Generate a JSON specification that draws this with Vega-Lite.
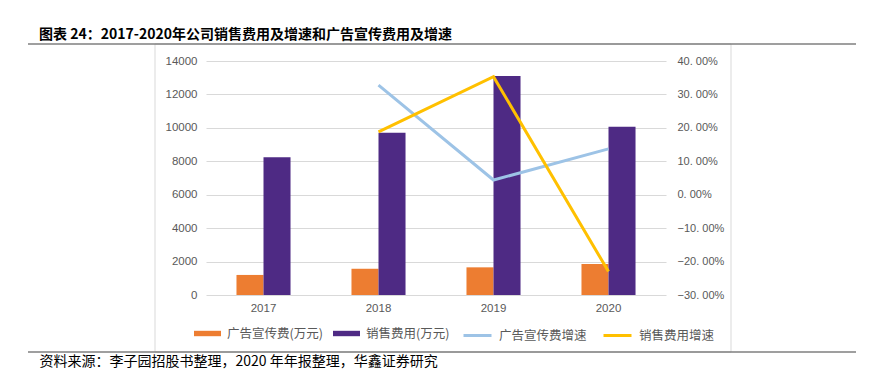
{
  "$schema": "https://vega.github.io/schema/vega-lite/v6.json",
  "width": 460,
  "height": 234,
  "autosize": {"type": "none"},
  "padding": {"left": 206, "top": 61, "right": 225, "bottom": 89},
  "background": "white",
  "config": {
    "view": {"stroke": null},
    "font": "Noto Sans CJK SC"
  },
  "title": {
    "text": "图表 24：2017-2020年公司销售费用及增速和广告宣传费用及增速",
    "anchor": "start",
    "frame": "group",
    "dx": -167,
    "offset": -13,
    "baseline": "bottom",
    "font": "Noto Sans CJK SC",
    "fontSize": 14,
    "fontWeight": "bold",
    "color": "#000000"
  },
  "layer": [
    {
      "data": {"values": [{"k": "box"}]},
      "mark": {"type": "rect", "fill": null, "stroke": "#D9D9D9", "strokeWidth": 1, "clip": false},
      "encoding": {"x": {"value": -51}, "x2": {"value": 525}, "y": {"value": -17}, "y2": {"value": 291}}
    },
    {
      "data": {"values": [{"k": "top"}]},
      "mark": {"type": "rule", "stroke": "#7F7F7F", "strokeWidth": 1.5, "clip": false},
      "encoding": {"x": {"value": -178}, "x2": {"value": 650}, "y": {"value": -17}}
    },
    {
      "data": {"values": [{"k": "bottom"}]},
      "mark": {"type": "rule", "stroke": "#7F7F7F", "strokeWidth": 1.5, "clip": false},
      "encoding": {"x": {"value": -178}, "x2": {"value": 650}, "y": {"value": 291}}
    },
    {
      "data": {"values": [
        {"year": "2017", "series": "广告宣传费(万元)", "value": 1200},
        {"year": "2018", "series": "广告宣传费(万元)", "value": 1570},
        {"year": "2019", "series": "广告宣传费(万元)", "value": 1655},
        {"year": "2020", "series": "广告宣传费(万元)", "value": 1855},
        {"year": "2017", "series": "销售费用(万元)", "value": 8240},
        {"year": "2018", "series": "销售费用(万元)", "value": 9710},
        {"year": "2019", "series": "销售费用(万元)", "value": 13100},
        {"year": "2020", "series": "销售费用(万元)", "value": 10070}
      ]},
      "mark": {"type": "bar"},
      "encoding": {
        "x": {
          "field": "year", "type": "nominal",
          "scale": {"paddingInner": 0.53, "paddingOuter": 0.265},
          "axis": {
            "title": "资料来源：李子园招股书整理，2020 年年报整理，华鑫证券研究",
            "titleX": -167, "titleY": 66, "titleAlign": "left", "titleAnchor": "start",
            "titleBaseline": "middle", "titleFont": "Noto Sans CJK SC", "titleFontSize": 14,
            "titleFontWeight": "normal", "titleColor": "#000000",
            "labelAngle": 0, "labelFont": "Liberation Sans", "labelFontSize": 11.5,
            "labelColor": "#595959", "labelPadding": 7, "domain": false, "ticks": false
          }
        },
        "xOffset": {"field": "series", "type": "nominal", "sort": ["广告宣传费(万元)", "销售费用(万元)"], "scale": {"paddingInner": 0, "paddingOuter": 0}},
        "y": {
          "field": "value", "type": "quantitative",
          "scale": {"domain": [0, 14000], "nice": false},
          "axis": {
            "title": null, "values": [0, 2000, 4000, 6000, 8000, 10000, 12000, 14000],
            "format": "d", "grid": true, "gridColor": "#D9D9D9", "gridWidth": 1,
            "domain": false, "ticks": false, "labelFont": "Liberation Sans",
            "labelFontSize": 11.5, "labelColor": "#595959", "labelPadding": 9
          }
        },
        "fill": {
          "field": "series", "type": "nominal",
          "scale": {"domain": ["广告宣传费(万元)", "销售费用(万元)"], "range": ["#ED7D31", "#4E2A84"]},
          "legend": {
            "title": null, "orient": "none", "direction": "horizontal",
            "legendX": -12, "legendY": 259,
            "symbolType": "M-1,-0.2H1V0.2H-1Z", "symbolSize": 729, "symbolStrokeWidth": 0,
            "labelFont": "Noto Sans CJK SC", "labelFontSize": 12.5, "labelColor": "#595959",
            "labelOffset": 6, "columnPadding": 10
          }
        }
      }
    },
    {
      "data": {"values": [
        {"year": "2018", "series": "广告宣传费增速", "growth": 0.328},
        {"year": "2019", "series": "广告宣传费增速", "growth": 0.044},
        {"year": "2020", "series": "广告宣传费增速", "growth": 0.137},
        {"year": "2018", "series": "销售费用增速", "growth": 0.188},
        {"year": "2019", "series": "销售费用增速", "growth": 0.353},
        {"year": "2020", "series": "销售费用增速", "growth": -0.23}
      ]},
      "mark": {"type": "line", "strokeWidth": 3},
      "encoding": {
        "x": {
          "field": "year", "type": "nominal",
          "scale": {"paddingInner": 0.53, "paddingOuter": 0.265},
          "axis": {
            "title": "资料来源：李子园招股书整理，2020 年年报整理，华鑫证券研究",
            "titleX": -167, "titleY": 66, "titleAlign": "left", "titleAnchor": "start",
            "titleBaseline": "middle", "titleFont": "Noto Sans CJK SC", "titleFontSize": 14,
            "titleFontWeight": "normal", "titleColor": "#000000",
            "labelAngle": 0, "labelFont": "Liberation Sans", "labelFontSize": 11.5,
            "labelColor": "#595959", "labelPadding": 7, "domain": false, "ticks": false
          }
        },
        "y": {
          "field": "growth", "type": "quantitative",
          "scale": {"domain": [-0.3, 0.4], "nice": false, "zero": false},
          "axis": {
            "orient": "right", "title": null,
            "values": [-0.3, -0.2, -0.1, 0, 0.1, 0.2, 0.3, 0.4],
            "labelExpr": "replace(format(datum.value, '.2%'), '.', '. ')",
            "grid": false, "domain": false, "ticks": false, "labelFont": "Liberation Sans",
            "labelFontSize": 11, "labelColor": "#595959", "labelPadding": 11
          }
        },
        "stroke": {
          "field": "series", "type": "nominal",
          "scale": {"domain": ["广告宣传费增速", "销售费用增速"], "range": ["#9DC3E6", "#FFC000"]},
          "legend": {
            "title": null, "orient": "none", "direction": "horizontal",
            "legendX": 256, "legendY": 259,
            "symbolType": "stroke", "symbolSize": 784, "symbolStrokeWidth": 3,
            "labelFont": "Noto Sans CJK SC", "labelFontSize": 12.5, "labelColor": "#595959",
            "labelOffset": 6, "columnPadding": 10
          }
        }
      }
    }
  ],
  "resolve": {"scale": {"y": "independent"}}
}
